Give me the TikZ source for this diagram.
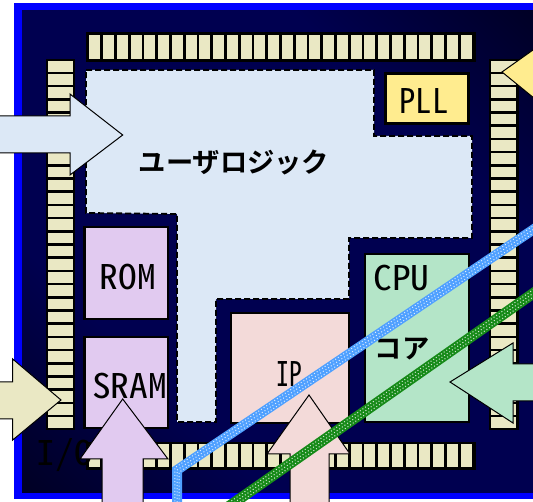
\documentclass[tikz,border=0pt]{standalone}
\usepackage{fontspec}
\newfontfamily\jpb{Noto Sans CJK JP Bold}
\newfontfamily\lat[RawFeature=+hwid,FakeStretch=1.1]{Noto Sans CJK JP}
\definecolor{beigec}{HTML}{EAE8C4}
\definecolor{logicc}{HTML}{DCE8F6}
\definecolor{pllc}{HTML}{FFEC8F}
\definecolor{memc}{HTML}{E1CAF0}
\definecolor{ipc}{HTML}{F3DAD9}
\definecolor{cpuc}{HTML}{B4E5C8}
\definecolor{navyc}{HTML}{000050}
\definecolor{bluewire}{HTML}{4FA0FF}
\definecolor{greenwire}{HTML}{168A18}
\pgfdeclareverticalshading{chipshade}{100bp}{color(0bp)=(black); color(32bp)=(navyc); color(68bp)=(navyc); color(100bp)=(black)}
\tikzset{
  x=1pt,y=-1pt,
  pad/.style={fill=beigec,draw=none},
  padframe/.style={fill=black,draw=none},
  block/.style={draw=black,line width=2.5pt,inner sep=0pt},
  arrowshape/.style={draw=black,line width=1pt,miter limit=10},
  latlabel/.style={font=\lat\fontsize{34}{34}\selectfont,text=black,inner sep=0pt},
  jplabel/.style={font=\jpb\fontsize{27.3}{27.3}\selectfont,text=black,inner sep=0pt},
  wiredots/.style={draw=white,line width=1pt,opacity=.8}
}
\begin{document}
\begin{tikzpicture}
\useasboundingbox (0,0) rectangle (533,502);
\clip (0,0) rectangle (533,502);
% package
\fill[blue] (14,3) rectangle (540,499);
\shade[shading=chipshade,shading angle=-45] (22,11) rectangle (540,492);
% pad rings
\fill[padframe] (86,32) rectangle (476,62);
\fill[padframe] (86,442) rectangle (476,470);
\fill[padframe] (46,59) rectangle (75,430);
\fill[padframe] (489,59) rectangle (519,430);
\foreach \i in {0,...,27}{
  \fill[pad] ({89.3+13.75*\i},35) rectangle ++(11,24);
  \fill[pad] ({89.3+13.75*\i},444.5) rectangle ++(11,23);
}
\foreach \i in {0,...,27}{
  \fill[pad] (47.5,{61+13.2*\i}) rectangle ++(25,10.6);
  \fill[pad] (491,{61+13.2*\i}) rectangle ++(25,10.6);
}
% user logic
\draw[fill=logicc,draw=black,line width=1.8pt,dash pattern=on 6pt off 3pt]
  (86,70) -- (374,70) -- (374,136) -- (472,136) -- (472,238) -- (349,238)
  -- (349,299) -- (216,299) -- (216,422) -- (177,422) -- (177,214) -- (86,213) -- cycle;
\node[jplabel] (logic) at (234,162) {ユーザロジック};
% blocks
\node[block,fill=pllc,minimum width=83pt,minimum height=50pt] (pll) at (427,98.5) {};
\node[block,fill=memc,minimum width=83.5pt,minimum height=92pt] (rom) at (126.25,273) {};
\node[block,fill=memc,minimum width=83.5pt,minimum height=91pt] (sram) at (126.25,382.5) {};
\node[block,fill=ipc,minimum width=118pt,minimum height=110pt] (ip) at (290,368) {};
\node[block,fill=cpuc,minimum width=104pt,minimum height=168pt] (cpu) at (417,338) {};
\node[latlabel] (plltext) at (424,101) {\scalebox{.87}[1]{PLL}};
\node[latlabel] (romtext) at (128,277) {ROM};
\node[latlabel] (sramtext) at (129.5,386) {SRAM};
\node[latlabel] (iptext) at (289.5,374) {\scalebox{.68}[1]{IP}};
\node[latlabel] (cputext) at (401.5,278) {CPU};
\node[jplabel] (coretext) at (402,349) {コア};
\node[latlabel] (iotext) at (65,455) {I/O};
% blue wire
\fill[bluewire] (172,510) -- (172,467.4) -- (540,219) -- (540,231) -- (182,472.7) -- (182,510) -- cycle;
\foreach \s/\ph in {-2.2/0,0/1.6,2.2/0}{
  \draw[wiredots,dash pattern=on 1pt off 2.2pt,dash phase=\ph pt,shift={(\s,\s)}] (177,510) -- (177,470) -- (540,225);
}
% arrows
\draw[arrowshape,fill=logicc] (-5,116) -- (70,116) -- (70,94) -- (122.7,135) -- (70,175) -- (70,153) -- (-5,153) -- cycle;
\draw[arrowshape,fill=beigec] (-5,382) -- (12.7,382) -- (12.7,359) -- (61,400) -- (12.7,440) -- (12.7,419) -- (-5,419) -- cycle;
\draw[arrowshape,fill=memc] (102,510) -- (102,459) -- (80,459) -- (122.7,399) -- (168,459) -- (143,459) -- (143,510) -- cycle;
\draw[arrowshape,fill=ipc] (290,510) -- (290,454) -- (267,454) -- (309,395) -- (350,454) -- (329,454) -- (329,510) -- cycle;
\draw[arrowshape,fill=cpuc] (540,364) -- (513,364) -- (513,343) -- (450,382) -- (513,423) -- (513,401) -- (540,401) -- cycle;
\draw[arrowshape,fill=pllc] (540,45) -- (502,72) -- (540,103) -- cycle;
% green wire, over the IP arrow
\fill[greenwire] (220,506.1) -- (540,282.1) -- (540,295.1) -- (220,519.1) -- cycle;
\foreach \s/\ph in {-3/0,0/1.6,3/0}{
  \draw[wiredots,dash pattern=on 1pt off 2.2pt,dash phase=\ph pt,shift={(.57*\s,.82*\s)}] (220,512.6) -- (540,288.6);
}
\end{tikzpicture}
\end{document}
